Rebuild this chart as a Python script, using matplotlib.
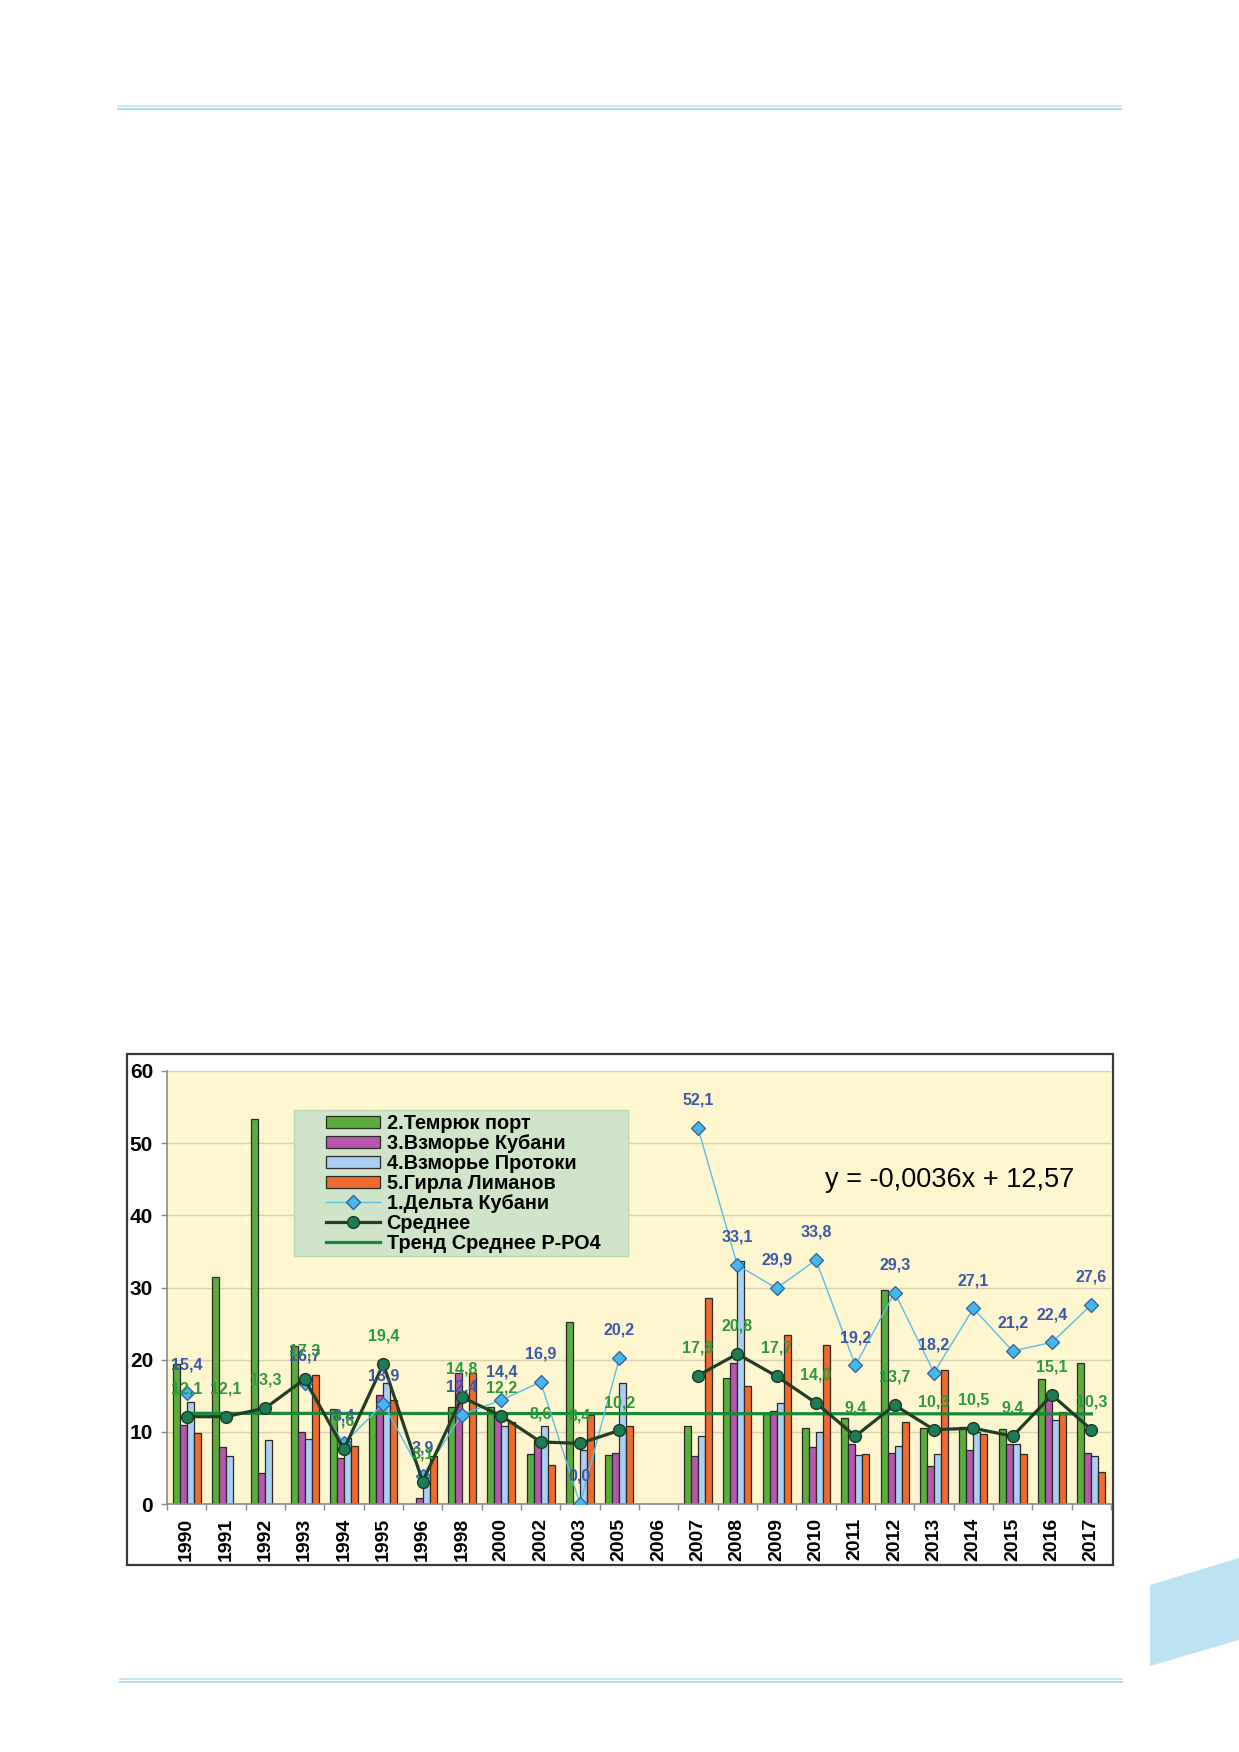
import numpy as np
import matplotlib
matplotlib.use("Agg")
import matplotlib.pyplot as plt
from matplotlib.patches import Rectangle, Polygon
from matplotlib.lines import Line2D

plt.rcParams['font.family'] = ['Liberation Sans', 'DejaVu Sans']

# données
annees = ['1990', '1991', '1992', '1993', '1994', '1995', '1996', '1998', '2000', '2002',
          '2003', '2005', '2006', '2007', '2008', '2009', '2010', '2011', '2012', '2013',
          '2014', '2015', '2016', '2017']
nan = np.nan
temryuk = [19.4, 31.5, 53.3, 21.9, 13.1, 12.6, nan, 13.5, 13.5, 6.9,
           25.2, 6.8, nan, 10.8, 17.5, 12.6, 10.6, 11.9, 29.7, 10.6,
           10.7, 10.4, 17.3, 19.6]
vzm_kuban = [10.9, 7.9, 4.3, 10.0, 6.4, 15.1, 0.8, 18.2, 12.6, 8.8,
             nan, 7.0, nan, 6.6, 19.5, 12.9, 7.9, 8.3, 7.1, 5.3,
             7.5, 8.3, 14.9, 7.1]
vzm_protoki = [14.2, 6.6, 8.9, 9.0, 9.1, 16.7, 2.9, nan, 10.8, 10.8,
               7.5, 16.7, nan, 9.4, 33.7, 14.0, 10.0, 6.8, 8.0, 6.9,
               10.0, 8.3, 11.7, 6.6]
girla = [9.9, nan, nan, 17.9, 8.1, 14.4, 6.6, 18.2, 11.3, 5.4,
         12.3, 10.8, nan, 28.6, 16.4, 23.4, 22.1, 6.9, 11.4, 18.5,
         9.7, 6.9, 12.7, 4.5]
delta = [15.4, nan, nan, 16.7, 8.4, 13.9, 3.9, 12.4, 14.4, 16.9,
         0.0, 20.2, nan, 52.1, 33.1, 29.9, 33.8, 19.2, 29.3, 18.2,
         27.1, 21.2, 22.4, 27.6]
moyenne = [12.1, 12.1, 13.3, 17.3, 7.6, 19.4, 3.1, 14.8, 12.2, 8.6,
           8.4, 10.2, nan, 17.8, 20.8, 17.7, 14.0, 9.4, 13.7, 10.3,
           10.5, 9.4, 15.1, 10.3]
tendance_coef = [-0.0036, 12.57]

noms = ['2.Темрюк порт', '3.Взморье Кубани', '4.Взморье Протоки', '5.Гирла Лиманов']
couleurs = ['#5aad3a', '#b656ad', '#a9d0f0', '#f06a2e']

W, H = 1239, 1752
fig = plt.figure(figsize=(W / 100, H / 100), dpi=100)
fig.patch.set_facecolor('white')


def fx(px):
    return px / W


def fy(py):
    return 1 - py / H


# décor de page
for y, c in [(105.5, '#c6e4f4'), (108.5, '#a9d6ee')]:
    fig.add_artist(Line2D([fx(118), fx(1121)], [fy(y), fy(y)], color=c, lw=1.3))
for y, c in [(1678.5, '#c6e4f4'), (1681.5, '#a9d6ee')]:
    fig.add_artist(Line2D([fx(120), fx(1122)], [fy(y), fy(y)], color=c, lw=1.3))
fig.add_artist(Polygon([(fx(1150), fy(1585)), (fx(1239), fy(1558)),
                        (fx(1239), fy(1640)), (fx(1150), fy(1666))],
                       closed=True, facecolor='#bde3f3', edgecolor='none'))

# cadre du graphique
fig.add_artist(Rectangle((fx(127), fy(1565)), fx(1113) - fx(127), fy(1054) - fy(1565),
                         facecolor='white', edgecolor='#3a3a3a', lw=1.6, zorder=0))

ax = fig.add_axes([fx(167), fy(1504), fx(1111) - fx(167), fy(1071) - fy(1504)])
ax.set_facecolor('#fdf6cf')

x = np.arange(len(annees))
largeur = 0.18
decalages = [-0.27, -0.09, 0.09, 0.27]
series = [temryuk, vzm_kuban, vzm_protoki, girla]
for serie, nom, coul, dec in zip(series, noms, couleurs, decalages):
    ax.bar(x + dec, serie, largeur, color=coul, edgecolor='#2a2a2a', lw=0.9,
           label=nom, zorder=2)

# tendance
xt = np.arange(1, len(annees) + 1)
tendance = tendance_coef[0] * xt + tendance_coef[1]
ax.plot(x, tendance, color='#16893a', lw=2.3, zorder=3)

ax.plot(x, delta, color='#58bfe8', lw=1.0, marker='D', markersize=7.5,
        markerfacecolor='#46b6ec', markeredgecolor='#2f5e9e', markeredgewidth=0.9, zorder=4)
ax.plot(x, moyenne, color='#233e24', lw=2.3, marker='o', markersize=8.5,
        markerfacecolor='#1b7d55', markeredgecolor='#1d3a22', markeredgewidth=1.0, zorder=5)

for xi, v in zip(x, delta):
    if not np.isnan(v):
        ax.annotate(f'{v:.1f}'.replace('.', ','), (xi, v), xytext=(0, 20),
                    textcoords='offset points', ha='center', va='center',
                    fontsize=11.5, fontweight='bold', color='#3d58a8', zorder=6)
for xi, v in zip(x, moyenne):
    if not np.isnan(v):
        ax.annotate(f'{v:.1f}'.replace('.', ','), (xi, v), xytext=(0, 20),
                    textcoords='offset points', ha='center', va='center',
                    fontsize=11.5, fontweight='bold', color='#2e9a3e', zorder=6)

ax.set_xlim(-0.5, len(annees) - 0.5)
ax.set_ylim(0, 60)
ax.set_yticks(range(0, 61, 10))
ax.set_yticklabels([str(v) for v in range(0, 61, 10)], fontsize=15, fontweight='bold')
ax.set_xticks(x)
ax.set_xticklabels(annees, rotation=90, fontsize=14, fontweight='bold')
ax.set_xticks(np.arange(-0.5, len(annees), 1), minor=True)
ax.tick_params(axis='x', which='major', length=0, pad=10)
ax.tick_params(axis='x', which='minor', length=4, color='#8a8a8a', width=1)
ax.tick_params(axis='y', length=4, color='#8a8a8a', width=1, pad=6)
ax.set_axisbelow(True)
ax.grid(axis='y', color='#d9d1b2', lw=1)
for s in ['top', 'right']:
    ax.spines[s].set_visible(False)
for s in ['left', 'bottom']:
    ax.spines[s].set_color('#8a8a8a')
    ax.spines[s].set_linewidth(1.2)

# légende
fig.add_artist(Rectangle((fx(294), fy(1256)), fx(628) - fx(294), fy(1110) - fy(1256),
                         facecolor='#d0e4c9', edgecolor='#bcd5b3', lw=1, zorder=3))
poignees = [Rectangle((0, 0), 1, 1, facecolor=c, edgecolor='#2a2a2a', lw=0.9) for c in couleurs]
poignees.append(Line2D([], [], color='#58bfe8', lw=1.0, marker='D', markersize=7.5,
                       markerfacecolor='#46b6ec', markeredgecolor='#2f5e9e'))
poignees.append(Line2D([], [], color='#233e24', lw=2.3, marker='o', markersize=8.5,
                       markerfacecolor='#1b7d55', markeredgecolor='#1d3a22'))
poignees.append(Line2D([], [], color='#16893a', lw=2.3))
etiquettes = noms + ['1.Дельта Кубани', 'Среднее', 'Тренд Среднее Р-РО4']
leg = fig.legend(poignees, etiquettes, loc='upper left',
                 bbox_to_anchor=(fx(326), fy(1114)), frameon=False,
                 prop={'size': 14.3, 'weight': 'bold'}, handlelength=2.7,
                 handleheight=0.55, handletextpad=0.35, labelspacing=0.05,
                 borderpad=0, borderaxespad=0)
leg.set_zorder(4)

fig.text(fx(950), fy(1180), 'y = -0,0036x + 12,57', fontsize=19.5, ha='center', va='center')

fig.savefig('out.png', dpi=100)
